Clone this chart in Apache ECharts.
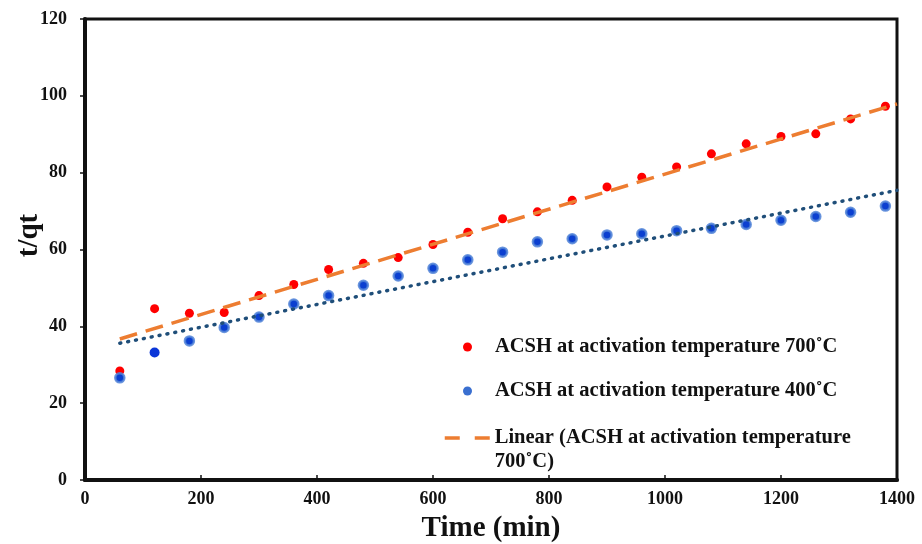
<!DOCTYPE html>
<html>
<head>
<meta charset="utf-8">
<script src="https://cdn.jsdelivr.net/npm/echarts@6/dist/echarts.min.js"></script>
<style>
  html, body { margin: 0; padding: 0; background: #fff; }
  #main { width: 922px; height: 544px; }
</style>
</head>
<body>
<div id="main"></div>
<script>
// time points (min)
var timeMin = [60, 120, 180, 240, 300, 360, 420, 480, 540, 600, 660, 720,
  780, 840, 900, 960, 1020, 1080, 1140, 1200, 1260, 1320, 1380];
// t/qt values
var acsh700 = [28.4, 44.6, 43.4, 43.6, 48.0, 50.9, 54.8, 56.4, 57.9, 61.3, 64.5, 68.0,
  69.8, 72.8, 76.3, 78.8, 81.5, 84.9, 87.5, 89.4, 90.1, 94.0, 97.3];
var acsh400 = [26.6, 33.2, 36.2, 39.7, 42.4, 45.8, 48.0, 50.7, 53.1, 55.1, 57.3, 59.3,
  62.0, 62.8, 63.8, 64.1, 64.9, 65.5, 66.5, 67.6, 68.6, 69.7, 71.3];
// linear trendline ends
var trendX = [60, 1400];
var trend700 = [36.7, 97.9];
var trend400 = [35.6, 75.4];
var xTicks = [0, 200, 400, 600, 800, 1000, 1200, 1400];
var yTicks = [0, 20, 40, 60, 80, 100, 120];

var names = [
  "ACSH at activation temperature 700˚C",
  "ACSH at activation temperature 400˚C",
  "Linear (ACSH at activation temperature 700˚C)",
  "Linear (ACSH at activation temperature 400˚C)"
];

function pairs(xs, ys) {
  return xs.map(function (x, i) { return [x, ys[i]]; });
}

var font = "'Liberation Serif', 'Times New Roman', serif";
var legendText = {
  fontFamily: font, fontWeight: "bold", fontSize: 20.5, color: "#111", lineHeight: 24
};
var myChart = echarts.init(document.getElementById("main"));

var blueData = pairs(timeMin, acsh400).map(function (p, i) {
  // second point is drawn solid in the original
  if (i === 1) {
    return { value: p, symbolSize: 10, itemStyle: { color: "#0a36d8", borderWidth: 0 } };
  }
  return p;
});

var option = {
  backgroundColor: "#fff",
  animation: false,
  grid: {
    left: 85, right: 25, top: 19, bottom: 64,
    outerBoundsMode: "none", containLabel: false,
    show: true, borderColor: "#111", borderWidth: 3
  },
  legend: [
    {
      orient: "vertical",
      left: 463, top: 335,
      padding: 0,
      itemWidth: 45, itemHeight: 9,
      itemGap: 20,
      selectedMode: false,
      data: [
        { name: names[0], icon: "circle", itemStyle: { color: "#ff0000", borderWidth: 0 } },
        { name: names[1], icon: "circle", itemStyle: { color: "#3a6fd0", borderWidth: 0 } }
      ],
      textStyle: legendText
    },
    {
      // blank first line keeps the icon level with the first text line
      orient: "vertical",
      left: 443, top: 402,
      padding: 0,
      itemWidth: 45, itemHeight: 9,
      selectedMode: false,
      data: [
        {
          name: names[2],
          itemStyle: { opacity: 0 },
          lineStyle: { type: [15, 15], width: 3.5 }
        }
      ],
      formatter: function () {
        return "\nLinear (ACSH at activation temperature\n700˚C)";
      },
      textStyle: legendText
    }
  ],
  xAxis: {
    type: "value", min: 0, max: 1400, interval: 200,
    name: "Time (min)", nameLocation: "middle", nameGap: 34, nameMoveOverlap: false,
    nameTextStyle: { fontFamily: font, fontWeight: "bold", fontSize: 29, color: "#111" },
    axisLine: { lineStyle: { color: "#111", width: 4 } },
    axisTick: { inside: true, length: 5, lineStyle: { color: "#111", width: 1.5 } },
    axisLabel: {
      fontFamily: font, fontWeight: "bold", fontSize: 18, color: "#111", margin: 10,
      formatter: function (v) { return xTicks.indexOf(v) >= 0 ? String(v) : ""; }
    },
    splitLine: { show: false }
  },
  yAxis: {
    type: "value", min: 0, max: 120, interval: 20,
    name: "t/qt", nameLocation: "middle", nameGap: 41, nameMoveOverlap: false,
    nameTextStyle: {
      fontFamily: font, fontWeight: "bold", fontSize: 29, color: "#111",
      padding: [0, 0, 0, 28]
    },
    axisLine: { show: true, lineStyle: { color: "#111", width: 4 } },
    axisTick: { show: true, length: 5, lineStyle: { color: "#111", width: 1.5 } },
    axisLabel: {
      fontFamily: font, fontWeight: "bold", fontSize: 18, color: "#111", margin: 18,
      formatter: function (v) { return yTicks.indexOf(v) >= 0 ? String(v) : ""; }
    },
    splitLine: { show: false }
  },
  series: [
    {
      name: names[0], type: "scatter", z: 2,
      symbolSize: 9,
      itemStyle: { color: "#ff0000", opacity: 1 },
      data: pairs(timeMin, acsh700)
    },
    {
      name: names[1], type: "scatter", z: 2,
      symbolSize: 9,
      itemStyle: { color: "#0b3fd0", borderColor: "rgba(80,130,215,0.85)", borderWidth: 2.5, opacity: 1 },
      data: blueData
    },
    {
      name: names[2], type: "line", z: 3,
      symbol: "none",
      lineStyle: { color: "#ed7d31", width: 3.5, type: [18, 9] },
      itemStyle: { color: "#ed7d31" },
      data: pairs(trendX, trend700)
    },
    {
      name: names[3], type: "line", z: 3,
      symbol: "none",
      lineStyle: { color: "#1f4e79", width: 3.5, type: [1, 7], cap: "round" },
      itemStyle: { color: "#1f4e79" },
      data: pairs(trendX, trend400)
    }
  ]
};

myChart.setOption(option);
</script>
</body>
</html>
